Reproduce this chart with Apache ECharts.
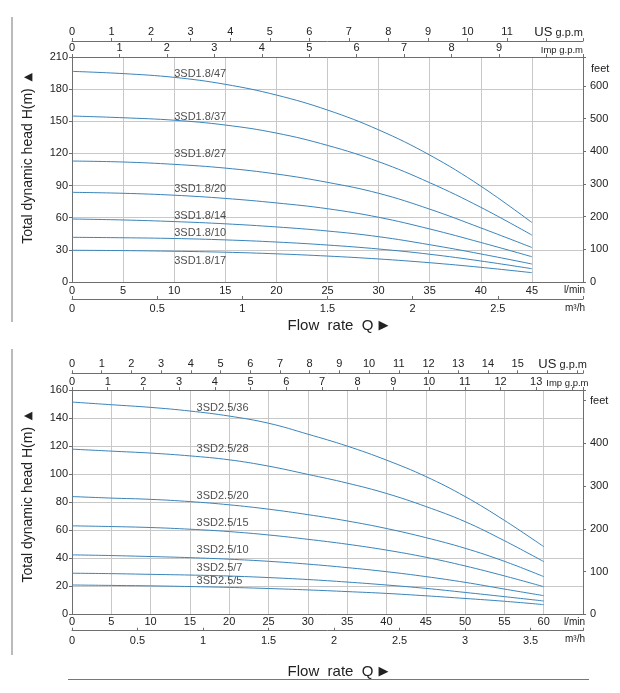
<!DOCTYPE html>
<html><head><meta charset="utf-8">
<script src="https://cdn.jsdelivr.net/npm/echarts@6/dist/echarts.min.js"></script>
<style>html,body{margin:0;padding:0;background:#fff}#c{width:620px;height:693px}</style>
</head><body><div id="c"></div>
<script>
// ---------- Chart 1 : 3SD1.8 ----------
const flowTop = [0, 5, 10, 15, 20, 25, 30, 35, 40, 45];               // l/min
const namesTop = ['3SD1.8/47', '3SD1.8/37', '3SD1.8/27', '3SD1.8/20', '3SD1.8/14', '3SD1.8/10', '3SD1.8/17'];
const headTop47 = [196.6, 194.5, 191.0, 184.5, 174.5, 160.5, 142.0, 118.5, 89.5, 55.5];
const headTop37 = [154.9, 153.3, 151.0, 146.5, 139.0, 127.5, 112.3, 92.7, 69.7, 43.8];
const headTop27 = [112.9, 112.0, 109.8, 106.3, 100.8, 93.0, 82.8, 68.0, 50.5, 32.2];
const headTop20 = [83.7, 82.8, 81.0, 78.0, 73.8, 68.4, 60.4, 49.5, 36.9, 23.6];
const headTop14 = [58.8, 57.9, 56.4, 54.3, 51.4, 47.6, 42.3, 34.8, 26.2, 16.8];
const headTop10 = [41.7, 41.3, 40.6, 39.3, 37.3, 34.5, 30.8, 25.9, 19.6, 12.4];
const headTop17 = [29.6, 29.3, 28.7, 27.8, 26.3, 24.2, 21.5, 18.0, 13.7, 8.7];
const labelFlowTop = 10;
const labelHeadTop = [194.1, 154.3, 119.2, 86.5, 61.6, 46.0, 19.9];

// ---------- Chart 2 : 3SD2.5 ----------
const flowBot = [0, 5, 10, 15, 20, 25, 30, 35, 40, 45, 50, 55, 60];
const namesBot = ['3SD2.5/36', '3SD2.5/28', '3SD2.5/20', '3SD2.5/15', '3SD2.5/10', '3SD2.5/7', '3SD2.5/5'];
const headBot36 = [151.4, 149.5, 147.6, 145.0, 141.4, 136.3, 128.5, 120.0, 110.0, 98.3, 84.0, 67.0, 48.3];
const headBot28 = [117.8, 116.4, 115.0, 113.0, 110.2, 105.7, 99.8, 93.6, 86.2, 76.9, 66.1, 52.5, 37.6];
const headBot20 = [84.0, 82.9, 82.0, 80.4, 78.1, 75.0, 71.1, 66.6, 61.2, 54.7, 47.1, 37.8, 26.9];
const headBot15 = [63.1, 62.6, 61.9, 60.7, 59.0, 56.6, 53.5, 50.0, 45.8, 40.7, 34.5, 27.4, 19.7];
const headBot10 = [42.4, 41.9, 41.2, 40.4, 39.3, 37.8, 35.8, 33.3, 30.4, 26.9, 22.8, 18.0, 13.3];
const headBot7  = [29.3, 29.0, 28.5, 28.0, 27.3, 26.2, 24.8, 23.0, 20.9, 18.5, 15.6, 12.6, 9.5];
const headBot5  = [20.9, 20.6, 20.3, 19.8, 19.2, 18.4, 17.4, 16.2, 14.9, 13.2, 11.3, 9.3, 6.9];
const labelFlowBot = 15.85;
const labelHeadBot = [147.1, 117.8, 84.4, 64.8, 45.9, 32.8, 23.8];

// ---------- styling ----------
const FONT = 'Arial, "Liberation Sans", sans-serif';
const TXT = '#222';
const AX = '#6e6e6e';
const GRID = '#c8c8c8';
const LINE = '#3a84bb';
const M_TO_FT = 3.28084;

const cfgs = [
  { top: 57, height: 225, lmax: 50, lLast: 45, mLast: 2.5, usMax: 12.92, usLast: 11, impMax: 10.77, impLast: 9,
    hmax: 210, hint: 30, feetLabelAt: null, mOffset: 17, mMargin: 4.5, lMargin: 3,
    usOffset: 16, usMargin: 3.5, impMargin: 4, namePad: 22 },
  { top: 390, height: 224.3, lmax: 65, lLast: 60, mLast: 3.5, usMax: 17.2, usLast: 15, impMax: 14.31, impLast: 13,
    hmax: 160, hint: 20, feetLabelAt: 500, mOffset: 16.4, mMargin: 4.5, lMargin: 2.5,
    usOffset: 16.7, usMargin: 3.8, impMargin: 3, namePad: 10 }
];

const lab = (extra) => Object.assign({ fontSize: 11, color: TXT, fontFamily: FONT }, extra || {});
const near = (v, step) => Math.abs(v / step - Math.round(v / step)) < 1e-6;

const grid = [], xAxis = [], yAxis = [];
cfgs.forEach((c, gi) => {
  grid.push({ left: 72, width: 511, top: c.top, height: c.height });
  // l/min
  xAxis.push({ gridIndex: gi, type: 'value', position: 'bottom', min: 0, max: c.lmax, interval: 5,
    axisLine: { show: true, onZero: false, lineStyle: { color: AX, width: 1 } }, axisTick: { show: false },
    axisLabel: lab({ margin: c.lMargin, showMaxLabel: true, formatter: v => (v <= c.lLast ? String(v) : '') }),
    splitLine: { show: true, lineStyle: { color: GRID, width: 1 } },
    name: 'l/min', nameLocation: 'end', nameGap: 2,
    nameTextStyle: lab({ fontSize: 10, align: 'right', verticalAlign: 'top', padding: [3, 0, 0, 0] }) });
  // m3/h
  xAxis.push({ gridIndex: gi, type: 'value', position: 'bottom', offset: c.mOffset, min: 0, max: c.lmax * 0.06, interval: 0.5,
    axisLine: { show: true, onZero: false, lineStyle: { color: AX, width: 1 } },
    axisTick: { show: true, inside: true, length: 3, lineStyle: { color: AX } },
    axisLabel: lab({ margin: c.mMargin, formatter: v => (v <= c.mLast + 1e-6 && near(v, 0.5) ? String(Math.round(v * 10) / 10) : '') }),
    splitLine: { show: false },
    name: 'm³/h', nameLocation: 'end', nameGap: 2,
    nameTextStyle: lab({ fontSize: 10, align: 'right', verticalAlign: 'top', padding: [4, 0, 0, 0] }) });
  // US g.p.m
  xAxis.push({ gridIndex: gi, type: 'value', position: 'top', offset: c.usOffset, min: 0, max: c.usMax, interval: 1,
    axisLine: { show: true, onZero: false, lineStyle: { color: AX, width: 1 } },
    axisTick: { show: true, length: 3, lineStyle: { color: AX } },
    axisLabel: lab({ margin: c.usMargin, formatter: v => (v <= c.usLast && near(v, 1) ? String(v) : '') }),
    splitLine: { show: false },
    name: '{a|US} {b|g.p.m}', nameLocation: 'end', nameGap: gi ? 4 : 0,
    nameTextStyle: lab({ align: 'right', verticalAlign: 'bottom', padding: [0, 0, 2, 0],
      rich: { a: { fontSize: 13, fontFamily: FONT, color: TXT }, b: { fontSize: 11, fontFamily: FONT, color: TXT } } }) });
  // Imp g.p.m
  xAxis.push({ gridIndex: gi, type: 'value', position: 'top', offset: 0, min: 0, max: c.impMax, interval: 1,
    axisLine: { show: true, onZero: false, lineStyle: { color: AX, width: 1 } },
    axisTick: { show: true, length: 3, lineStyle: { color: AX } },
    axisLabel: lab({ margin: c.impMargin, formatter: v => (v <= c.impLast && near(v, 1) ? String(v) : '') }),
    splitLine: { show: false },
    name: 'Imp g.p.m', nameLocation: 'end', nameGap: gi ? 4 : 0,
    nameTextStyle: lab({ fontSize: 9.5, align: 'right', verticalAlign: 'bottom', padding: [0, 0, 2, 0] }) });
  // head (m)
  yAxis.push({ gridIndex: gi, type: 'value', position: 'left', min: 0, max: c.hmax, interval: c.hint,
    axisLine: { show: true, onZero: false, lineStyle: { color: AX, width: 1 } },
    axisTick: { show: true, length: 3, lineStyle: { color: AX } },
    axisLabel: lab({ margin: 4 }),
    splitLine: { show: true, lineStyle: { color: GRID, width: 1 } },
    name: '{t|Total dynamic head H(m)}  {a|▲}', nameLocation: 'middle', nameGap: 37,
    nameTextStyle: { padding: [0, 0, 0, c.namePad],
      rich: { t: { fontSize: 14, fontFamily: FONT, color: TXT }, a: { fontSize: 11, fontFamily: 'DejaVu Sans', color: TXT } } } });
  // head (feet)
  yAxis.push(Object.assign({ gridIndex: gi, type: 'value', position: 'right', min: 0, max: c.hmax * M_TO_FT, interval: 100,
    axisLine: { show: true, onZero: false, lineStyle: { color: AX, width: 1 } },
    axisTick: { show: true, length: 3, lineStyle: { color: AX } },
    axisLabel: lab({ margin: 7, formatter: v => {
      if (!near(v, 100)) return '';
      if (c.feetLabelAt !== null) { if (Math.abs(v - c.feetLabelAt) < 1e-6) return 'feet'; if (v > c.feetLabelAt) return ''; }
      return String(Math.round(v));
    } }),
    splitLine: { show: false } },
    c.feetLabelAt === null ? { name: 'feet', nameLocation: 'end', nameGap: -12,
      nameTextStyle: lab({ align: 'left', verticalAlign: 'middle', padding: [0, 0, 0, 8] }) } : {}));
});

const series = [];
function addCurves(gi, flows, heads, names, lf, lh) {
  heads.forEach((h, i) => {
    series.push({ type: 'line', name: names[i], xAxisIndex: gi * 4, yAxisIndex: gi * 2,
      data: flows.map((q, k) => [q, h[k]]), symbol: 'none', smooth: 0.4,
      lineStyle: { color: LINE, width: 1 }, silent: true });
  });
  series.push({ type: 'scatter', xAxisIndex: gi * 4, yAxisIndex: gi * 2, symbolSize: 0, silent: true,
    data: names.map((n, i) => ({ value: [lf, lh[i]], name: n })),
    label: { show: true, position: 'right', distance: 0, formatter: p => p.name,
      fontSize: 11, color: TXT, fontFamily: FONT } });
}
addCurves(0, flowTop, [headTop47, headTop37, headTop27, headTop20, headTop14, headTop10, headTop17], namesTop, labelFlowTop, labelHeadTop);
addCurves(1, flowBot, [headBot36, headBot28, headBot20, headBot15, headBot10, headBot7, headBot5], namesBot, labelFlowBot, labelHeadBot);

const flowTitle = (top) => ({ text: '{t|Flow  rate  Q} {a|▶}', left: 333, top, textAlign: 'center',
  textStyle: { fontWeight: 'normal', rich: {
    t: { fontSize: 15, fontWeight: 'normal', color: TXT, fontFamily: FONT },
    a: { fontSize: 13, fontWeight: 'normal', color: TXT, fontFamily: 'DejaVu Sans' } } } });

const chart = echarts.init(document.getElementById('c'), null, { renderer: 'canvas' });
chart.setOption({
  animation: false,
  backgroundColor: '#fff',
  textStyle: { fontFamily: FONT },
  title: [flowTitle(312), flowTitle(658)],
  grid, xAxis, yAxis, series,
  graphic: [
    { type: 'line', shape: { x1: 12, y1: 17, x2: 12, y2: 322 }, style: { stroke: '#777', lineWidth: 1 } },
    { type: 'line', shape: { x1: 12, y1: 349, x2: 12, y2: 655 }, style: { stroke: '#777', lineWidth: 1 } },
    { type: 'line', shape: { x1: 68, y1: 679.5, x2: 589, y2: 679.5 }, style: { stroke: '#777', lineWidth: 1 } }
  ]
});
</script></body></html>
